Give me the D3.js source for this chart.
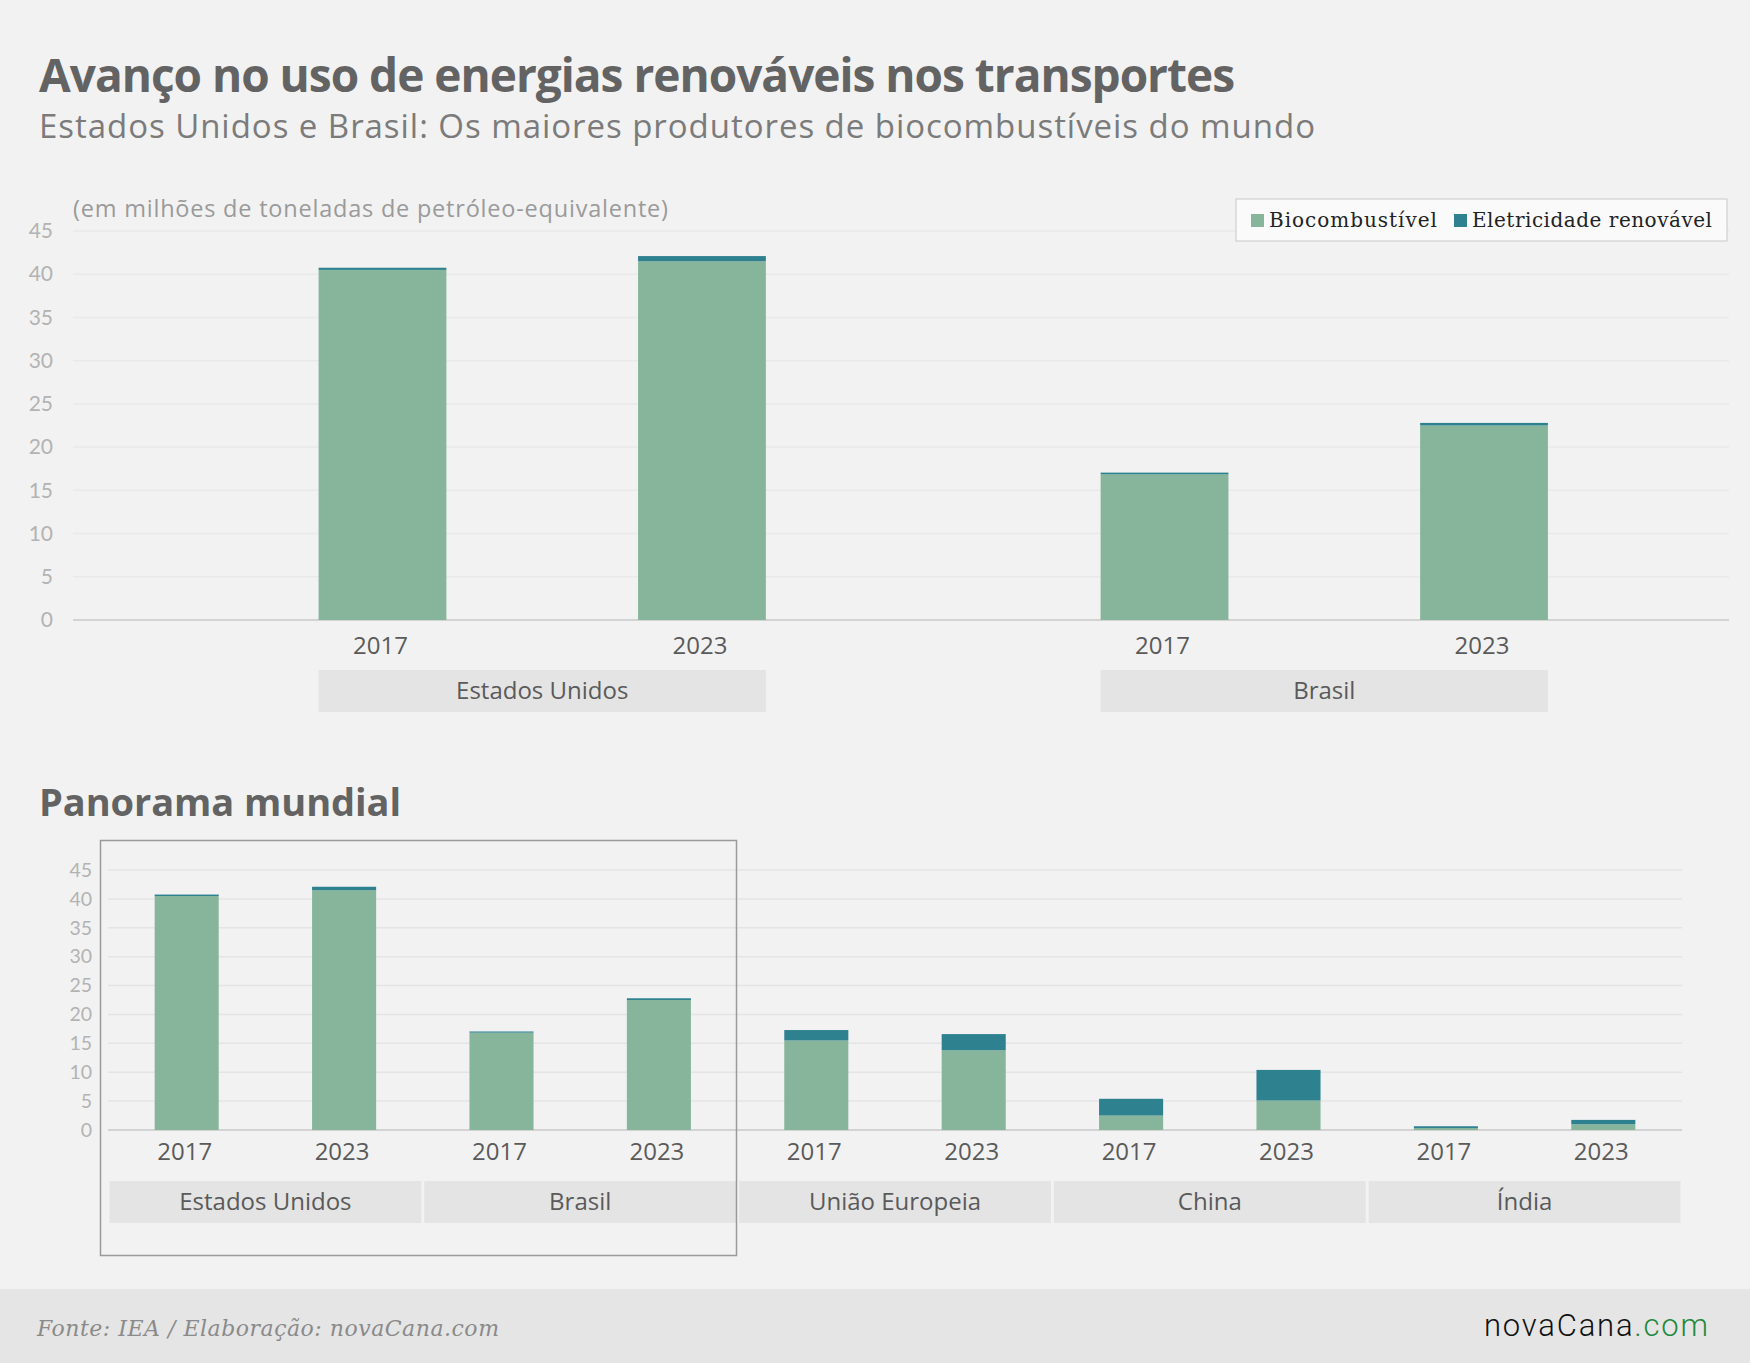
<!DOCTYPE html>
<html>
<head>
<meta charset="utf-8">
<script src="https://cdn.jsdelivr.net/npm/d3@7"></script>
<style>
  body { margin: 0; background: #f2f2f2; }
  svg { display: block; font-family: "Open Sans", Lato, sans-serif; }
  .tick text { fill: #b3b3b3; }
  .yearLabel { fill: #5a5a5a; }
  .groupLabel { fill: #5a5a5a; }
</style>
</head>
<body>
<div id="chart"></div>
<script>
// ---- data (milhões de tep) ----
const years = ["2017", "2023"];
const regions = ["Estados Unidos", "Brasil", "União Europeia", "China", "Índia"];
const topRegions = ["Estados Unidos", "Brasil"];
const bio2017 = [40.5, 16.85, 15.5, 2.5, 0.35];
const bio2023 = [41.5, 22.5, 13.8, 5.1, 1.0];
const elec2017 = [0.25, 0.2, 1.8, 2.9, 0.3];
const elec2023 = [0.6, 0.3, 2.8, 5.3, 0.75];
const yTicks = [0, 5, 10, 15, 20, 25, 30, 35, 40, 45];
const seriesNames = ["Biocombustível", "Eletricidade renovável"];
const colors = ["#86b59c", "#2e818f"];

const width = 1750;
const height = 1363;

const svg = d3.select("#chart")
    .append("svg")
    .attr("width", width)
    .attr("height", height);

svg.append("rect").attr("width", width).attr("height", height).attr("fill", "#f2f2f2");

// rows: one per region/year
const rows = regions.flatMap((r, i) => [
    {region: r, year: "2017", bio: bio2017[i], elec: elec2017[i]},
    {region: r, year: "2023", bio: bio2023[i], elec: elec2023[i]}
]);
const stack = d3.stack().keys(["bio", "elec"]);

/*************************
***** TITLE, SUBTITLE *****
*************************/

svg.append("text")
    .attr("x", 39).attr("y", 92)
    .attr("font-size", 46).attr("font-weight", 700)
    .attr("fill", "#636363")
    .attr("textLength", 1196).attr("lengthAdjust", "spacing")
    .text("Avanço no uso de energias renováveis nos transportes");

svg.append("text")
    .attr("x", 39).attr("y", 138)
    .attr("font-size", 33)
    .attr("fill", "#7b7b7b")
    .attr("textLength", 1276).attr("lengthAdjust", "spacing")
    .text("Estados Unidos e Brasil: Os maiores produtores de biocombustíveis do mundo");

svg.append("text")
    .attr("x", 73).attr("y", 217)
    .attr("font-size", 23.5)
    .attr("fill", "#9a9a9a")
    .attr("textLength", 595).attr("lengthAdjust", "spacing")
    .text("(em milhões de toneladas de petróleo-equivalente)");

/*********************
***** PANEL DRAW *****
*********************/

function panel(o) {
    const g = svg.append("g");
    const data = rows.filter(d => o.groups.includes(d.region));

    const y = d3.scaleLinear().domain([0, 45]).range([o.y0, o.y45]);

    const xGroup = d3.scaleBand()
        .domain(o.groups)
        .range(o.groupRange)
        .paddingInner(o.groupPad);

    const xYear = d3.scaleBand()
        .domain(years)
        .range([0, xGroup.bandwidth()])
        .paddingInner(o.barPad)
        .paddingOuter(o.barPad / 2);

    // gridlines
    g.selectAll(".grid")
        .data(yTicks)
        .enter()
        .append("line")
        .attr("x1", o.gridX[0]).attr("x2", o.gridX[1])
        .attr("y1", d => y(d)).attr("y2", d => y(d))
        .attr("stroke", d => d === 0 ? "#d3d3d3" : o.gridColor)
        .attr("stroke-width", d => d === 0 ? 2 : 1.5);

    // y tick labels
    const yaxis = g.append("g")
        .attr("transform", `translate(${o.labelX}, 0)`)
        .call(d3.axisLeft(y).tickValues(yTicks).tickSize(0).tickPadding(0));
    yaxis.select(".domain").remove();
    yaxis.selectAll("text")
        .attr("font-size", o.tickSize)
        .attr("font-family", "Lato, sans-serif");

    // stacked bars
    const stacked = stack(data);
    g.selectAll(".layer")
        .data(stacked)
        .enter()
        .append("g")
        .attr("fill", (d, i) => colors[i])
        .selectAll("rect")
        .data(d => d)
        .enter()
        .append("rect")
        .attr("x", d => xGroup(d.data.region) + xYear(d.data.year))
        .attr("width", xYear.bandwidth())
        .attr("y", d => y(d[1]))
        .attr("height", d => y(d[0]) - y(d[1]));

    // year labels
    g.selectAll(".yearLabel")
        .data(data)
        .enter()
        .append("text")
        .attr("class", "yearLabel")
        .attr("x", d => xGroup(d.region) + xYear(d.year) + xYear.bandwidth() / 2 - 2)
        .attr("y", o.yearY)
        .attr("text-anchor", "middle")
        .attr("font-size", 24)
        .text(d => d.year);

    // group boxes
    const boxX = r => o.boxFull ? xGroup(r) + 1.5 : xGroup(r) + xYear("2017");
    const boxW = o.boxFull ? xGroup.bandwidth() - 3
        : xYear("2023") + xYear.bandwidth() - xYear("2017");

    g.selectAll(".groupBox")
        .data(o.groups)
        .enter()
        .append("rect")
        .attr("x", boxX)
        .attr("y", o.boxY)
        .attr("width", boxW)
        .attr("height", 42)
        .attr("fill", "#e4e4e4");

    g.selectAll(".groupLabel")
        .data(o.groups)
        .enter()
        .append("text")
        .attr("class", "groupLabel")
        .attr("x", d => boxX(d) + boxW / 2)
        .attr("y", o.boxY + 29)
        .attr("text-anchor", "middle")
        .attr("font-size", 24)
        .text(d => d);
}

// top: EUA e Brasil
panel({
    groups: topRegions,
    y0: 620, y45: 231,
    gridX: [73, 1729],
    gridColor: "#e9e9e9",
    labelX: 53, tickSize: 21,
    groupRange: [222.75, 1643.75], groupPad: 0.183, barPad: 0.6,
    yearY: 654, boxY: 670, boxFull: false
});

// bottom: panorama mundial
svg.append("text")
    .attr("x", 39).attr("y", 816)
    .attr("font-size", 38).attr("font-weight", 700)
    .attr("fill", "#636363")
    .attr("textLength", 362).attr("lengthAdjust", "spacing")
    .text("Panorama mundial");

panel({
    groups: regions,
    y0: 1130, y45: 870,
    gridX: [108, 1682],
    gridColor: "#e4e4e4",
    labelX: 92, tickSize: 19.5,
    groupRange: [108, 1682], groupPad: 0, barPad: 0.593,
    yearY: 1160, boxY: 1181, boxFull: true
});

// highlight around EUA + Brasil
svg.append("rect")
    .attr("x", 100.5).attr("y", 840.5)
    .attr("width", 636).attr("height", 415)
    .attr("fill", "none")
    .attr("stroke", "#9a9a9a")
    .attr("stroke-width", 1.5);

/*****************
***** LEGEND *****
*****************/

const legend = svg.append("g").attr("transform", "translate(1236, 199)");
legend.append("rect")
    .attr("width", 491).attr("height", 42)
    .attr("fill", "#fafafa")
    .attr("stroke", "#c8c8c8");

const legendX = [15, 218];
const legendW = [168, 240];
const items = legend.selectAll(".item")
    .data(seriesNames)
    .enter()
    .append("g")
    .attr("transform", (d, i) => `translate(${legendX[i]}, 0)`);
items.append("rect")
    .attr("y", 15).attr("width", 13).attr("height", 13)
    .attr("fill", (d, i) => colors[i]);
items.append("text")
    .attr("x", 18).attr("y", 28)
    .attr("font-family", "'DejaVu Serif', serif")
    .attr("font-size", 20)
    .attr("fill", "#222")
    .attr("textLength", (d, i) => legendW[i]).attr("lengthAdjust", "spacing")
    .text(d => d);

/*****************
***** FOOTER *****
*****************/

svg.append("rect")
    .attr("y", 1289).attr("width", width).attr("height", height - 1289)
    .attr("fill", "#e5e5e5");

svg.append("text")
    .attr("x", 37).attr("y", 1336)
    .attr("font-family", "'DejaVu Serif', serif")
    .attr("font-style", "italic")
    .attr("font-size", 22)
    .attr("fill", "#8a8a8a")
    .attr("textLength", 462).attr("lengthAdjust", "spacing")
    .text("Fonte: IEA / Elaboração: novaCana.com");

const logo = svg.append("text")
    .attr("x", 1484).attr("y", 1336)
    .attr("font-family", "Roboto, sans-serif")
    .attr("font-weight", 300)
    .attr("font-size", 31)
    .attr("textLength", 224).attr("lengthAdjust", "spacing");
logo.append("tspan").attr("fill", "#111").text("novaCana");
logo.append("tspan").attr("fill", "#1f8a3b").text(".com");
</script>
</body>
</html>
